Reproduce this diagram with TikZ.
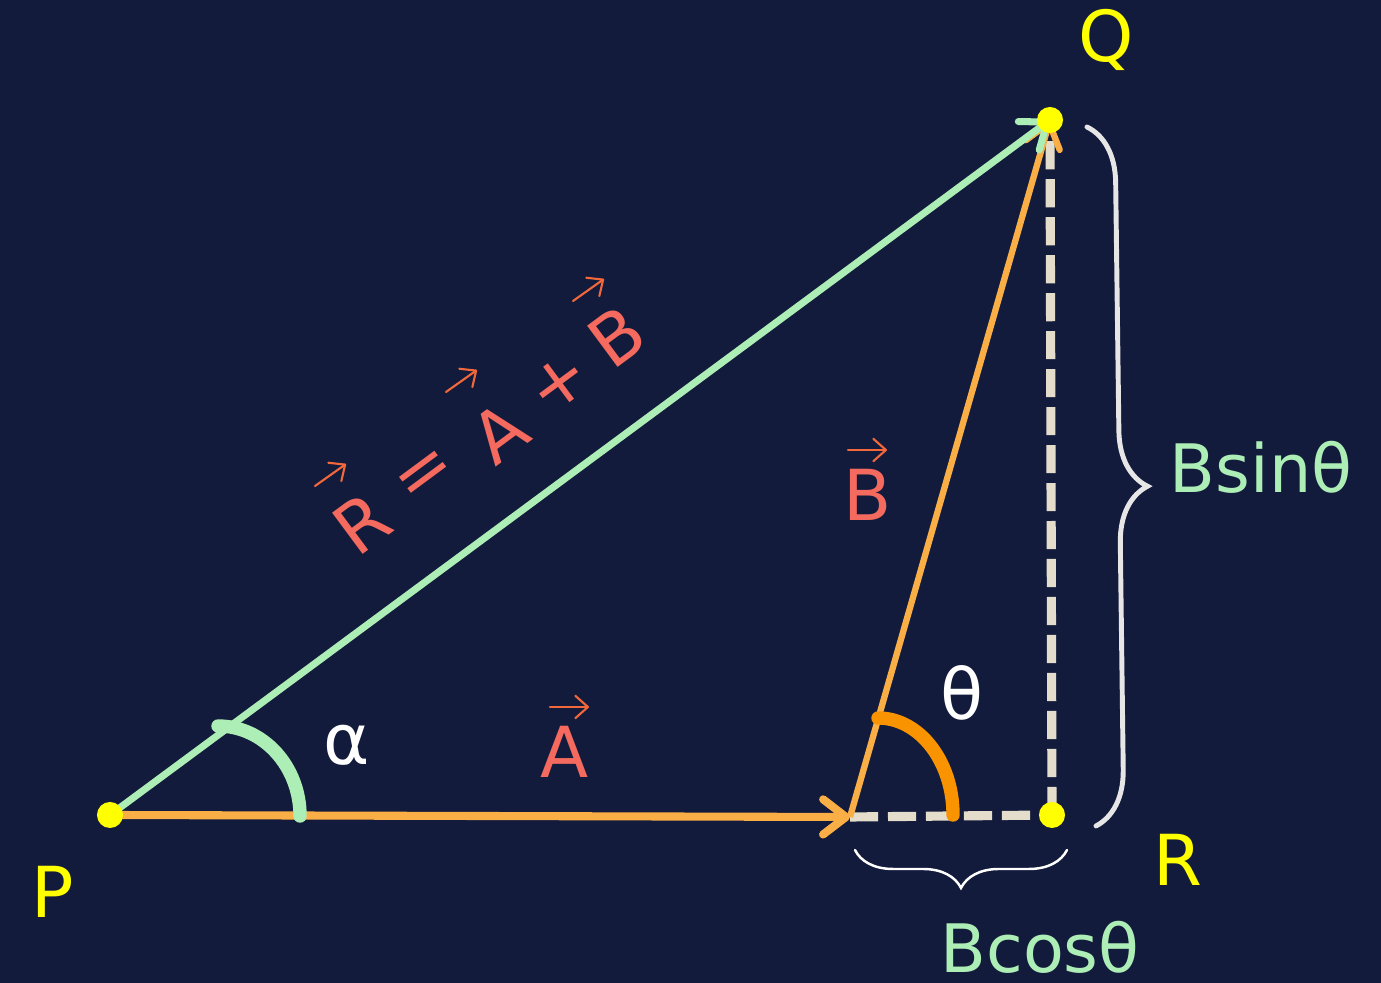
\documentclass[tikz,border=0pt]{standalone}
\usepackage{fontspec}
\setmainfont{DejaVu Sans}
\usetikzlibrary{arrows.meta,decorations.pathreplacing,calc}
\definecolor{bgc}{HTML}{131B3C}
\definecolor{yel}{HTML}{FFFF00}
\definecolor{grn}{HTML}{ADEDB6}
\definecolor{org}{HTML}{FAAF46}
\definecolor{thetac}{HTML}{F99300}
\definecolor{dashc}{HTML}{E4DDCB}
\definecolor{salmon}{HTML}{F46A5E}
\definecolor{arrc}{HTML}{F2683A}
\definecolor{bracec}{HTML}{E6E6E6}
\begin{document}
\begin{tikzpicture}[x=0.01cm,y=-0.01cm,
  dot/.style={circle,fill=yel,inner sep=0pt,minimum size=0.26cm},
  big/.style={font=\fontsize{20pt}{24pt}\selectfont,inner sep=0pt},
  mid/.style={font=\fontsize{19pt}{23pt}\selectfont,inner sep=0pt},
  dashline/.style={draw=dashc,line width=2.6pt,dash pattern=on 8pt off 2.8pt},
  barb/.style={-{Straight Barb[length=6.5pt,width=10pt,round]}},
  avec/.style={draw=org,line width=2.3pt,barb},
  bvec/.style={draw=org,line width=1.8pt,barb},
  rvec/.style={draw=grn,line width=2pt,barb},
  anglearc/.style={line width=3.8pt,line cap=round},
  vecar/.style={draw=arrc,line width=0.6pt,line cap=round,-{Straight Barb[length=3.6pt,width=6.4pt,round]}},
  eqtxt/.style={big,text=salmon,rotate=36.5},
  bracestyle/.style={decorate,line cap=round}
]
\fill[bgc] (0,0) rectangle (1381,983);
\useasboundingbox (0,0) rectangle (1381,983);

% key points
\coordinate (P) at (110,815);
\coordinate (Q) at (1050,120);
\coordinate (R) at (1052,815);
\coordinate (T) at (850,817);

% dashed components
\draw[dashline] (T) -- (R);
\draw[dashline] (R) -- (Q);

% vectors
\draw[avec] (P) -- (T);
\draw[bvec] (T) -- (Q);
\draw[rvec] (P) -- (Q);

% angle arcs
\coordinate (atop) at (218,726);
\coordinate (ttop) at (878,718);
\draw[anglearc,draw=grn] (atop) arc[start angle=90,end angle=0,x radius=0.82cm,y radius=0.90cm];
\draw[anglearc,draw=thetac] (ttop) arc[start angle=90,end angle=0,x radius=0.75cm,y radius=0.97cm];

% points
\node[dot] (Pd) at (P) {};
\node[dot] (Qd) at (Q) {};
\node[dot] (Rd) at (R) {};

% braces
\coordinate (br1) at (1087,127);
\coordinate (br2) at (1096,826);
\draw[bracestyle,draw=bracec,line width=1.4pt,decoration={brace,amplitude=15.9pt,aspect=0.515}] (br1) -- (br2);
\coordinate (bb1) at (1067,850);
\coordinate (bb2) at (855,850);
\draw[bracestyle,draw=white,line width=0.7pt,decoration={brace,amplitude=10.8pt}] (bb1) -- (bb2);

% point labels
\node[big,text=yel] (Ql) at (1106,40) {Q};
\node[big,text=yel] (Pl) at (53,892) {P};
\node[big,text=yel] (Rl) at (1178,860) {R};

% component labels
\node[mid,text=grn] (bsin) at (1261,467) {Bsinθ};
\node[mid,text=grn] (bcos) at (1040,947) {Bcosθ};
\node[big,text=white] (th) at (962,693) {θ};
\node[big,text=white] (al) at (347,745) {α};

% vector labels
\node[big,text=salmon] (Al) at (565,752) {A};
\draw[vecar] ($(Al)+(-15,-45)$) -- ++(39,0);
\node[big,text=salmon] (Bl) at (868,495) {B};
\draw[vecar] ($(Bl)+(-20,-45)$) -- ++(39,0);

% equation along R
\node[eqtxt] (eR) at (362,523) {R};
\node[eqtxt] (eEq) at (427,477) {=};
\node[eqtxt] (eA) at (500,433) {A};
\node[eqtxt] (ePl) at (559,383) {+};
\node[eqtxt] (eB) at (617,337) {B};
\draw[vecar] ($(eR)+(-47,-37)$) -- ++(31,-22);
\draw[vecar] ($(eA)+(-54,-41)$) -- ++(31,-22);
\draw[vecar] ($(eB)+(-44,-36)$) -- ++(31,-22);
\end{tikzpicture}
\end{document}
